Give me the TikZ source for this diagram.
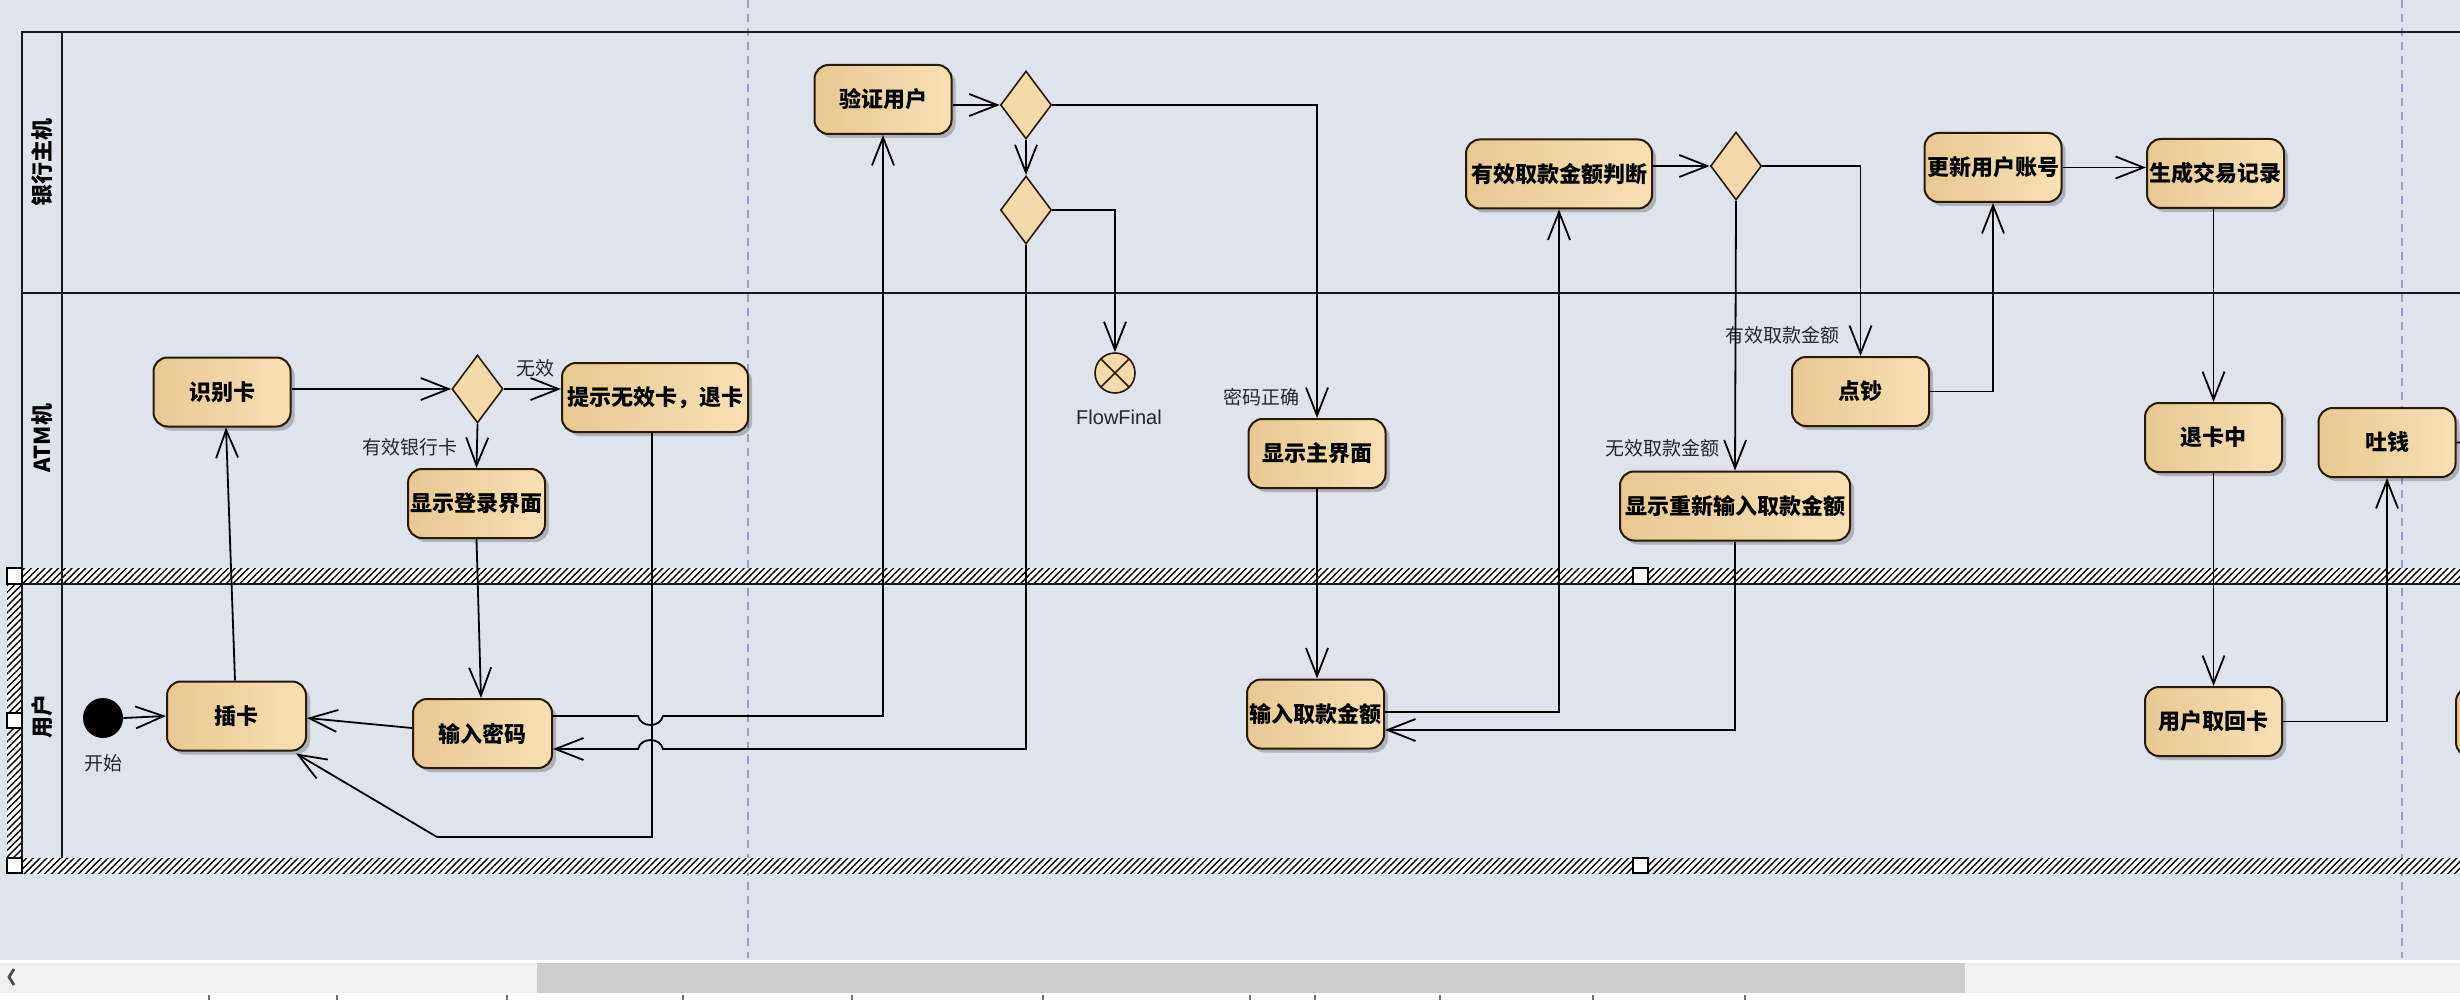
\documentclass[tikz,border=0pt]{standalone}
\usepackage{fontspec}
\setmainfont{Liberation Sans}
\newfontfamily\cjk{Noto Sans CJK SC}
\usetikzlibrary{arrows.meta,shapes.geometric,shadows,patterns.meta,calc}
\definecolor{bg}{RGB}{223,227,236}
\definecolor{tanL}{RGB}{232,200,145}
\definecolor{tanR}{RGB}{248,224,180}
\definecolor{tanM}{RGB}{244,218,170}
\definecolor{edge}{RGB}{40,25,10}
\definecolor{dashc}{RGB}{150,158,200}
\definecolor{track}{RGB}{240,240,240}
\definecolor{thumb}{RGB}{205,205,205}
\tikzset{
  act/.style={rounded corners=7pt, draw=edge, line width=1pt, left color=tanL, right color=tanR,
    minimum width=68.5pt, minimum height=34.5pt, inner sep=1pt,
    font=\cjk\bfseries\fontsize{11}{12}\selectfont,
    drop shadow={shadow xshift=2pt,shadow yshift=-2pt,fill=black,opacity=0.22}},
  dec/.style={diamond, draw=edge, line width=0.8pt, fill=tanM, minimum width=25.5pt,
    minimum height=34pt, inner sep=0pt},
  startnode/.style={circle, fill=black, minimum size=20pt, inner sep=0pt},
  finalnode/.style={circle, draw=edge, line width=0.8pt, fill=tanM, minimum size=20pt, inner sep=0pt,
    path picture={\draw[edge, line width=0.8pt] (path picture bounding box.north west) -- (path picture bounding box.south east)
      (path picture bounding box.north east) -- (path picture bounding box.south west);}},
  flow/.style={draw=black, line width=0.9pt, -{Straight Barb[length=14pt,width=11pt,line width=0.9pt]}},
  plain/.style={draw=black, line width=0.9pt},
  lbl/.style={font=\cjk\fontsize{9.5}{10}\selectfont, text=black!85, inner sep=0pt},
  lane/.style={line width=1.4pt, draw=black!90},
  lanelbl/.style={rotate=90, font=\cjk\bfseries\fontsize{11}{12}\selectfont, inner sep=0pt},
  handle/.style={draw=black, fill=white, line width=0.8pt},
  hatch/.style={pattern={Lines[angle=45, distance=2.4pt, line width=0.7pt]}, pattern color=black},
}
\begin{document}
\begin{tikzpicture}[x=0.5pt,y=-0.5pt]
\useasboundingbox (0,0) rectangle (2460,1000);
\clip (0,0) rectangle (2460,1000);
% background
\fill[bg] (0,0) rectangle (2460,962);
% scroll bar
\fill[white] (0,960) rectangle (2460,1000);
\fill[track] (0,963) rectangle (2460,993);
\fill[thumb] (537,963) rectangle (1965,993);
\draw[black!70, line width=1.4pt] (14,969) -- (9,977) -- (14,985);
\foreach \t in {209,337,507,683,852,1043,1250,1315,1440,1593,1745}
  \draw[black!55, line width=0.6pt] (\t,995) -- (\t,1000);
% dashed guide lines
\draw[dashc, line width=0.7pt, dash pattern=on 4pt off 3pt] (748,0) -- (748,958);
\draw[dashc, line width=0.7pt, dash pattern=on 4pt off 3pt] (2402,0) -- (2402,958);
% hatched selection bands
\fill[white] (22,568) rectangle (2460,584);
\fill[hatch] (22,568) rectangle (2460,584);
\fill[white] (7,584) rectangle (22,858);
\fill[hatch] (7,584) rectangle (22,858);
\fill[white] (7,858) rectangle (2460,873);
\fill[hatch] (7,858) rectangle (2460,873);
% lanes
\draw[lane] (2460,32) -- (22,32) -- (22,858);
\draw[lane] (62,32) -- (62,858);
\draw[lane] (22,293) -- (2460,293);
\draw[lane] (22,584) -- (2460,584);
% handles
\draw[handle] (7,568) rectangle (22,584);
\draw[handle] (7,713) rectangle (22,728);
\draw[handle] (7,858) rectangle (22,873);
\draw[handle] (1633,568) rectangle (1648,584);
\draw[handle] (1633,858) rectangle (1648,873);
% lane labels
\node[lanelbl] (lbank) at (42,162) {银行主机};
\node[lanelbl] (latm) at (42,438) {ATM机};
\node[lanelbl] (luser) at (42,716) {用户};

% nodes
\node[act] (rec) at (222,392) {识别卡};
\node[dec] (d1) at (477.5,389) {};
\node[act, minimum width=93pt] (inv) at (655,397.5) {提示无效卡，退卡};
\node[act] (login) at (476.5,503.5) {显示登录界面};
\node[startnode] (start) at (103,718) {};
\node[act, minimum width=69.5pt] (insert) at (236.5,716) {插卡};
\node[act, minimum width=69.5pt] (pwd) at (482.5,733.5) {输入密码};
\node[act] (verify) at (883,99.5) {验证用户};
\node[dec] (d2) at (1026,105) {};
\node[dec] (d3) at (1026,210) {};
\node[finalnode] (final) at (1115,373) {};
\node[act] (main) at (1317,453.5) {显示主界面};
\node[act] (amt) at (1315.5,714) {输入取款金额};
\node[act, minimum width=93pt] (judge) at (1559,174) {有效取款金额判断};
\node[dec] (d4) at (1736,166) {};
\node[act] (count) at (1860.5,391.5) {点钞};
\node[act, minimum width=115pt] (reinput) at (1735,506) {显示重新输入取款金额};
\node[act] (upd) at (1993,167.5) {更新用户账号};
\node[act] (rlog) at (2215.5,173.5) {生成交易记录};
\node[act] (eject) at (2213.5,437.5) {退卡中};
\node[act] (take) at (2213.5,721.5) {用户取回卡};
\node[act] (cash) at (2387,442.5) {吐钱};
\node[act] (next) at (2524.5,722) {};

% labels
\node[lbl] (lwx) at (535,368) {无效};
\node[lbl, anchor=east] (lyx) at (458,447) {有效银行卡};
\node[lbl, anchor=east] (lmm) at (1300,397) {密码正确};
\node[font=\fontsize{10}{11}\selectfont, text=black!85, inner sep=0pt] (lff) at (1119,417) {FlowFinal};
\node[lbl] (lyq) at (1782,335) {有效取款金额};
\node[lbl, anchor=east] (lwq) at (1720,448) {无效取款金额};
\node[lbl] (lks) at (103,763) {开始};

% bend coordinates
\coordinate (b1) at (437,837);
\coordinate (ja) at (638,716);
\coordinate (jb) at (663,716);
\coordinate (jc) at (663,749);
\coordinate (jd) at (638,749);
\coordinate (off) at (2480,442);

% connectors
\draw[flow] (start.east) -- (insert.west);
\draw[flow] ([xshift=-0.75pt]insert.north) -- ([xshift=2pt]rec.south);
\draw[flow] (rec.east |- d1) -- (d1.west);
\draw[flow] (d1.east) -- (inv.west |- d1.east);
\draw[flow] (d1.south) -- (login.north);
\draw[flow] (login.south) -- ([xshift=-0.75pt]pwd.north);
\draw[flow] ([yshift=2.75pt]pwd.west) -- ([yshift=-1pt]insert.east);
\draw[flow] ([xshift=-1.5pt]inv.south) |- (b1) -- ([xshift=-5.5pt,yshift=-1pt]insert.south east);
\draw[flow] ([yshift=8.75pt]pwd.east) -- (ja) .. controls (641,728) and (660,728) .. (jb) -| (verify.south);
\draw[flow] (d3.south) |- (jc) .. controls (660,737) and (641,737) .. (jd) -- ([yshift=-7.75pt]pwd.east);
\draw[flow] (verify.east |- d2) -- (d2.west);
\draw[flow] (d2.south) -- (d3.north);
\draw[flow] (d2.east) -| (main.north);
\draw[flow] (d3.east) -| (final.north);
\draw[flow] (main.south) -- (main.south |- amt.north);
\draw[flow] ([yshift=1pt]amt.east) -| (judge.south);
\draw[flow] (judge.east |- d4) -- (d4.west);
\draw[flow] (d4.east) -| (count.north);
\draw[flow] (d4.south) -- (reinput.north);
\draw[flow] (reinput.south) |- ([yshift=-8pt]amt.east);
\draw[flow] (count.east) -| (upd.south);
\draw[flow] (upd.east) -- (rlog.west |- upd.east);
\draw[flow] (eject.north |- rlog.south) -- (eject.north);
\draw[flow] (eject.south) -- (take.north);
\draw[flow] (take.east) -| (cash.south);
\draw[plain] (cash.east) -- (off);
\end{tikzpicture}
\end{document}
